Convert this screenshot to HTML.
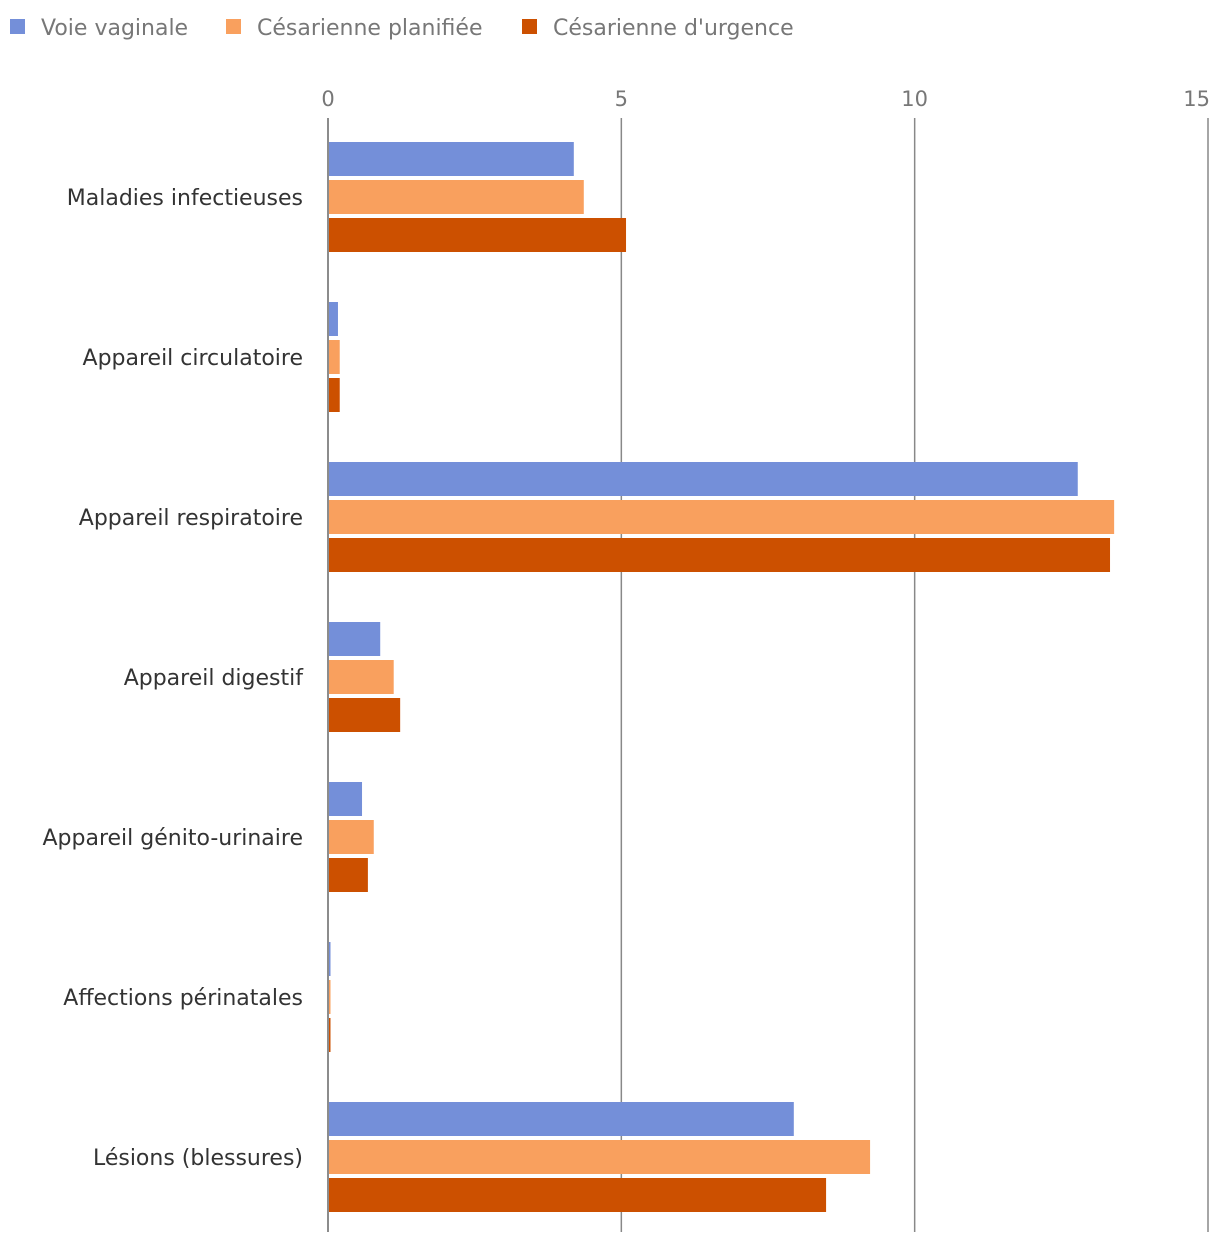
<!DOCTYPE html>
<html><head><meta charset="utf-8"><style>
html,body{margin:0;padding:0;background:#fff;}
svg{display:block;font-family:"DejaVu Sans","Liberation Sans",sans-serif;}
</style></head><body>
<svg id="chart" width="1220" height="1244" viewBox="0 0 1220 1244" xmlns="http://www.w3.org/2000/svg">
<g id="legend">
<g><rect x="10" y="19" width="15" height="15" fill="#748fd9"/><text x="41" y="35" font-size="22" fill="#777">Voie vaginale</text></g>
<g><rect x="226" y="19" width="15" height="15" fill="#f9a05e"/><text x="257" y="35" font-size="22" fill="#777">Césarienne planifiée</text></g>
<g><rect x="522" y="19" width="15" height="15" fill="#cc5000"/><text x="553" y="35" font-size="22" fill="#777">Césarienne d'urgence</text></g>
</g>
<g id="grid"></g>
<g id="bars"></g>
<g id="labels"></g>
</svg>
<script>
const categories = ["Maladies infectieuses","Appareil circulatoire","Appareil respiratoire","Appareil digestif","Appareil génito-urinaire","Affections périnatales","Lésions (blessures)"];
const vaginale = [4.19,0.17,12.78,0.89,0.58,0.02,7.94];
const planifiee = [4.36,0.2,13.4,1.12,0.78,0.01,9.24];
const urgence = [5.08,0.2,13.33,1.23,0.68,0.02,8.49];
const ticks = [0,5,10,15];

const NS="http://www.w3.org/2000/svg";
const x0=328, pxPerUnit=(1208-328)/15;
function xScale(v){return x0+v*pxPerUnit;}
function groupTop(i){return 142+i*160;}
const series=[{vals:vaginale,color:"#748fd9",name:"voie-vaginale"},{vals:planifiee,color:"#f9a05e",name:"cesarienne-planifiee"},{vals:urgence,color:"#cc5000",name:"cesarienne-urgence"}];
function mk(tag,attrs){const e=document.createElementNS(NS,tag);for(const k in attrs)e.setAttribute(k,attrs[k]);return e;}
const grid=document.getElementById('grid');
ticks.forEach(t=>{
  const l=mk('line',{x1:xScale(t),x2:xScale(t),y1:118,y2:1232,stroke:t===0?'#666':'#888','stroke-width':1.5});
  
  
  grid.appendChild(l);
  const tx=mk('text',{x:xScale(t),y:106,'font-size':21,fill:'#777','text-anchor':t===15?'end':'middle'});
  if(t===15)tx.setAttribute('x',xScale(t)+2);
  tx.textContent=t;
  
  
  grid.appendChild(tx);
});
const bars=document.getElementById('bars'), labels=document.getElementById('labels');
categories.forEach((c,i)=>{
  series.forEach((s,j)=>{
    const v=s.vals[i];
    const r=mk('rect',{x:x0+1,y:groupTop(i)+j*38,width:Math.max(1.5,xScale(v)-x0-1),height:34,fill:s.color});
    
    
    bars.appendChild(r);
  });
  const t=mk('text',{x:303,y:groupTop(i)+63,'font-size':22,fill:'#333','text-anchor':'end'});
  t.textContent=c;
  
  
  labels.appendChild(t);
});
</script>
</body></html>
